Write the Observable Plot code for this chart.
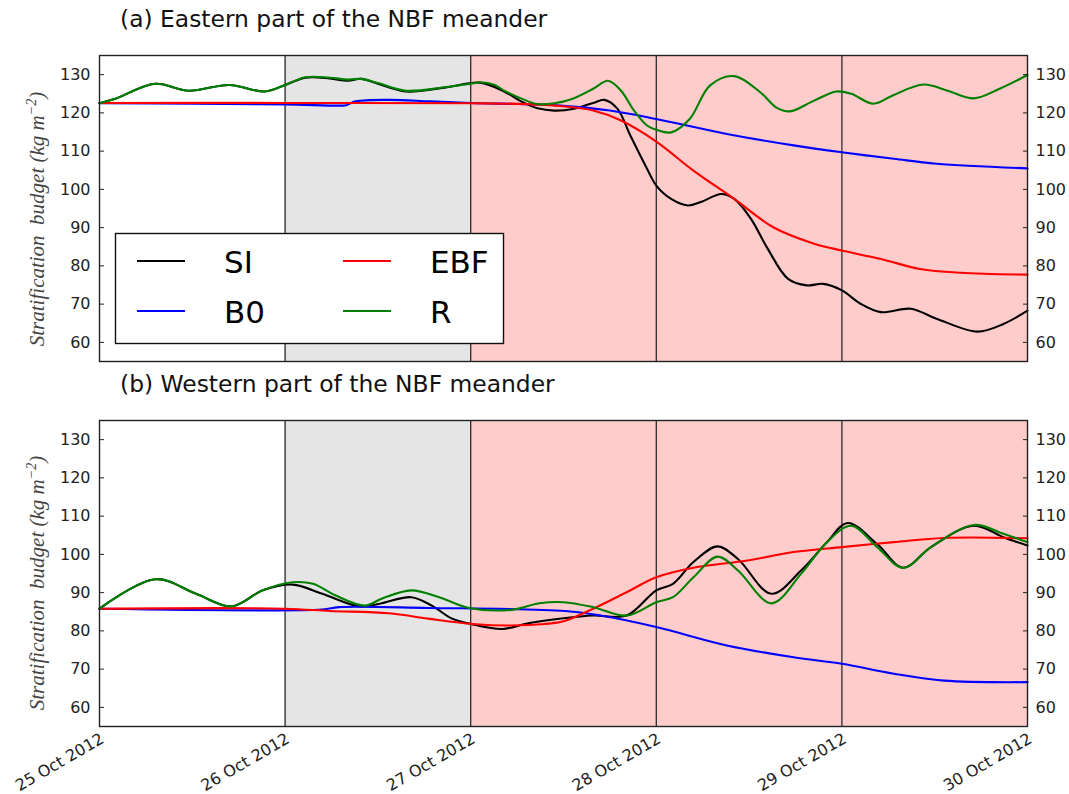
<!DOCTYPE html>
<html>
<head>
<meta charset="utf-8">
<script src="https://cdn.jsdelivr.net/npm/d3@7"></script>
<script src="https://cdn.jsdelivr.net/npm/@observablehq/plot@0.6"></script>
<style>
  body { margin: 0; background: #fff; }
  #wrap { position: relative; width: 1069px; height: 794px; overflow: hidden; background: #fff; }
  #overlay { position: absolute; left: 0; top: 0; pointer-events: none; }
</style>
</head>
<body>
<div id="wrap"></div>
<script>
// ---------------- data ----------------
const dayLabels = ["2012-10-25", "2012-10-26", "2012-10-27", "2012-10-28", "2012-10-29", "2012-10-30"];
const dividerDays = ["2012-10-26", "2012-10-27", "2012-10-28", "2012-10-29"];
const grayBand = ["2012-10-26", "2012-10-27"];
const pinkBand = ["2012-10-27", "2012-10-30"];
const yTicks = [60, 70, 80, 90, 100, 110, 120, 130];
const yDomain = [55, 135];
const seriesNames = ["SI", "B0", "EBF", "R"];
const seriesColors = ["#000000", "#0000ff", "#ff0000", "#008000"];
const panelTitles = ["(a) Eastern part of the NBF meander", "(b) Western part of the NBF meander"];

// [days since 25 Oct 2012 00:00, value]
const eastR = [[0,122.5],[0.08,123.6],[0.30,127.6],[0.48,125.8],[0.70,127.3],[0.89,125.6],[1.0,127.3],[1.11,129.3],[1.24,129.2],[1.34,128.7],[1.41,128.9],[1.50,127.8],[1.65,125.8],[1.86,126.7],[2.0,127.6],[2.05,128.0],[2.13,127.3],[2.18,125.8],[2.28,123.6],[2.36,122.3],[2.45,122.5],[2.55,123.7],[2.66,126.3],[2.74,128.4],[2.81,125.8],[2.88,120.6],[2.95,116.7],[3.0,115.6],[3.08,114.9],[3.18,118.4],[3.29,127.2],[3.42,129.6],[3.56,125.4],[3.65,121.3],[3.72,120.4],[3.85,123.2],[3.97,125.6],[4.05,125.0],[4.17,122.4],[4.28,124.7],[4.44,127.4],[4.57,125.8],[4.71,123.8],[4.85,126.3],[5.0,129.9]];
const eastSI = [[0,122.5],[0.08,123.6],[0.30,127.6],[0.48,125.8],[0.70,127.3],[0.89,125.6],[1.0,127.3],[1.11,129.2],[1.24,129.0],[1.34,128.4],[1.41,128.9],[1.50,127.6],[1.65,125.6],[1.86,126.6],[2.05,127.9],[2.18,125.6],[2.28,122.8],[2.36,121.2],[2.45,120.6],[2.55,121.0],[2.66,122.6],[2.72,123.4],[2.79,121.1],[2.86,114.1],[2.95,105.4],[3.0,101.0],[3.08,97.5],[3.17,95.8],[3.24,96.7],[3.35,98.8],[3.42,97.5],[3.51,92.3],[3.60,84.5],[3.71,76.6],[3.81,74.9],[3.90,75.3],[4.0,73.6],[4.10,70.1],[4.21,67.9],[4.37,68.8],[4.51,66.2],[4.73,62.8],[4.87,64.8],[5.0,68.3]];
const eastEBF = [[0,122.6],[1.0,122.6],[2.0,122.5],[2.3,122.3],[2.48,121.8],[2.66,120.6],[2.81,118.0],[3.0,112.5],[3.2,104.9],[3.42,97.5],[3.63,90.1],[3.85,85.8],[4.0,84.0],[4.21,81.8],[4.42,79.2],[4.64,78.2],[5.0,77.7]];
const eastB0 = [[0,122.5],[0.5,122.4],[1.0,122.2],[1.3,121.9],[1.33,122.0],[1.38,123.0],[1.56,123.4],[1.78,123.0],[2.0,122.6],[2.48,121.9],[2.75,120.6],[3.0,118.4],[3.38,114.5],[3.74,111.5],[4.0,109.7],[4.28,108.0],[4.51,106.7],[5.0,105.5]];

const westR = [[0,85.8],[0.30,93.5],[0.52,89.7],[0.71,86.4],[0.88,90.6],[1.04,92.7],[1.15,92.3],[1.27,89.3],[1.43,86.6],[1.52,88.4],[1.68,90.6],[1.83,88.8],[1.99,86.0],[2.22,85.5],[2.37,87.2],[2.50,87.5],[2.66,86.2],[2.84,84.0],[3.0,87.5],[3.09,88.8],[3.20,94.0],[3.33,99.4],[3.44,95.8],[3.62,87.2],[3.78,94.9],[3.92,103.2],[4.05,107.5],[4.19,101.9],[4.33,96.5],[4.48,101.9],[4.71,107.7],[4.87,105.4],[5.0,103.2]];
const westSI = [[0,85.8],[0.30,93.5],[0.52,89.7],[0.71,86.4],[0.88,90.6],[1.04,92.1],[1.20,89.7],[1.40,86.4],[1.51,87.1],[1.68,88.8],[1.79,86.6],[1.90,83.2],[2.01,81.7],[2.17,80.5],[2.31,82.0],[2.50,83.3],[2.66,84.0],[2.84,84.0],[3.0,90.6],[3.09,92.3],[3.20,98.0],[3.33,102.1],[3.44,98.8],[3.62,89.7],[3.78,95.8],[3.92,103.2],[4.03,108.2],[4.19,102.7],[4.33,96.5],[4.48,101.9],[4.71,107.5],[4.87,104.5],[5.0,102.3]];
const westEBF = [[0,85.8],[1.0,85.8],[1.24,85.2],[1.56,84.6],[1.77,83.2],[2.01,81.8],[2.22,81.4],[2.40,81.8],[2.50,82.5],[2.66,85.8],[2.84,90.1],[3.0,94.0],[3.2,96.5],[3.49,98.4],[3.74,100.6],[4.0,101.9],[4.28,103.2],[4.55,104.3],[5.0,104.2]];
const westB0 = [[0,85.8],[1.2,85.6],[1.29,86.2],[1.77,86.0],[2.51,85.2],[2.70,84.0],[3.0,81.0],[3.38,76.2],[3.74,73.1],[4.0,71.4],[4.28,68.8],[4.55,67.0],[5.0,66.6]];

// ---------------- helpers ----------------
const t0 = Date.UTC(2012, 9, 25);
const toDate = (d) => new Date(t0 + d * 86400000);
const parse = (s) => new Date(s + "T00:00:00Z");

function rows(seriesList) {
  const out = [];
  seriesList.forEach((pts, i) => {
    for (const [d, v] of pts) out.push({t: toDate(d), v, s: seriesNames[i]});
  });
  return out;
}
const eastData = rows([eastSI, eastB0, eastEBF, eastR]);
const westData = rows([westSI, westB0, westEBF, westR]);
const bands = [
  {x1: parse(grayBand[0]), x2: parse(grayBand[1]), fill: "#e5e5e5"},
  {x1: parse(pinkBand[0]), x2: parse(pinkBand[1]), fill: "#ffcccc"}
];

function panel(data, {height, marginTop, marginBottom, showX}) {
  const marks = [
    Plot.rect(bands, {x1: "x1", x2: "x2", y1: () => yDomain[0], y2: () => yDomain[1], fill: "fill"}),
    Plot.ruleX(dividerDays.map(parse), {stroke: "#2b2b2b", strokeWidth: 1.3}),
    Plot.line(data, {x: "t", y: "v", z: "s", stroke: "s", curve: "catmull-rom", strokeWidth: 2.1}),
    Plot.frame({stroke: "#222", strokeWidth: 1.4}),
    Plot.axisY({anchor: "left", ticks: yTicks, tickSize: -5, tickPadding: 14, fontSize: 16, label: null}),
    Plot.axisY({anchor: "right", ticks: yTicks, tickSize: -5, tickPadding: 13, fontSize: 16, label: null})
  ];
  if (showX) {
    marks.push(Plot.axisX({anchor: "bottom", ticks: dayLabels.map(parse), tickFormat: d3.utcFormat("%d %b %Y"),
      tickRotate: -30, tickSize: 0, tickPadding: 11, dx: 3, fontSize: 16, label: null}));
  } else {
    marks.push(Plot.axisX({anchor: "bottom", ticks: [], label: null}));
  }
  return Plot.plot({
    width: 1069, height, marginLeft: 99, marginRight: 42, marginTop, marginBottom,
    style: {fontFamily: "'DejaVu Sans', sans-serif", color: "#222", background: "transparent", overflow: "visible"},
    x: {type: "utc", domain: [parse(dayLabels[0]), parse(dayLabels[dayLabels.length - 1])]},
    y: {domain: yDomain},
    color: {domain: seriesNames, range: seriesColors},
    marks
  });
}

const wrap = document.getElementById("wrap");
const pa = panel(eastData, {height: 370, marginTop: 55, marginBottom: 9, showX: false});
pa.style.position = "absolute"; pa.style.top = "0px"; pa.style.left = "0px";
const pb = panel(westData, {height: 424, marginTop: 50, marginBottom: 68, showX: true});
pb.style.position = "absolute"; pb.style.top = "370px"; pb.style.left = "0px";
wrap.appendChild(pa);
wrap.appendChild(pb);

// ---------------- overlay: titles, y labels, legend ----------------
const svg = d3.select(wrap).append("svg").attr("id", "overlay").attr("width", 1069).attr("height", 794);
const titleY = [27, 392];
panelTitles.forEach((txt, i) => {
  svg.append("text").attr("x", 120).attr("y", titleY[i])
    .attr("font-family", "'DejaVu Sans', sans-serif").attr("font-size", 23.4).attr("fill", "#111").text(txt);
});
const ylabCenters = [219, 583];
ylabCenters.forEach((cy) => {
  const t = svg.append("text")
    .attr("transform", `translate(44,${cy}) rotate(-90)`)
    .attr("text-anchor", "middle")
    .attr("font-family", "'Liberation Serif', 'DejaVu Serif', serif")
    .attr("font-style", "italic").attr("font-size", 21).attr("fill", "#444");
  t.append("tspan").text("Stratification\u2002budget (kg m");
  t.append("tspan").attr("dy", -8).attr("font-size", 14).text("\u22122");
  t.append("tspan").attr("dy", 8).text(")");
});

// legend
const lg = svg.append("g");
lg.append("rect").attr("x", 115.5).attr("y", 233.5).attr("width", 388).attr("height", 110)
  .attr("fill", "#fff").attr("stroke", "#111").attr("stroke-width", 1.4);
seriesNames.forEach((name, i) => {
  const col = Math.floor(i / 2), row = i % 2;
  const x0 = 137 + col * 206, y0 = 261 + row * 50;
  lg.append("line").attr("x1", x0).attr("x2", x0 + 48).attr("y1", y0).attr("y2", y0)
    .attr("stroke", seriesColors[i]).attr("stroke-width", 2.2);
  lg.append("text").attr("x", x0 + 87).attr("y", y0 + 12)
    .attr("font-family", "'DejaVu Sans', sans-serif").attr("font-size", 31).attr("fill", "#000").text(name);
});
</script>
</body>
</html>
